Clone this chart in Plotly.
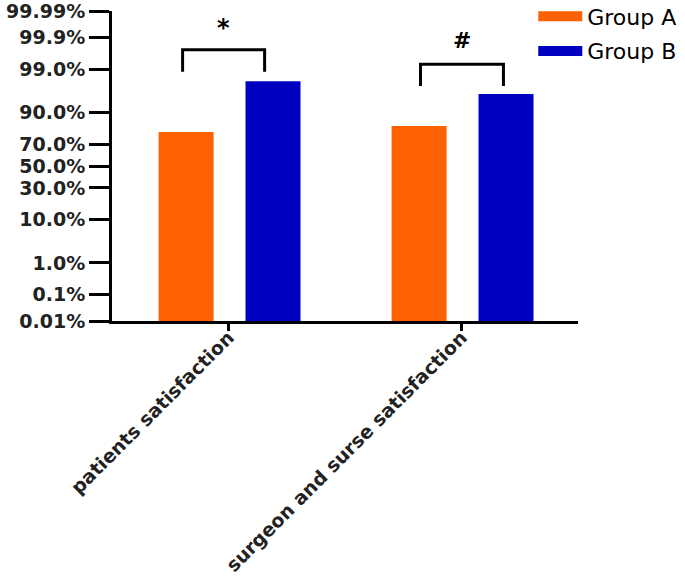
from statistics import NormalDist
import plotly.graph_objects as go

categories = ["patients satisfaction", "surgeon and surse satisfaction"]
group_a = [0.793, 0.831]
group_b = [0.979, 0.958]
tick_probs = [0.0001, 0.001, 0.01, 0.1, 0.3, 0.5, 0.7, 0.9, 0.99, 0.999, 0.9999]
tick_labels = ["0.01%", "0.1%", "1.0%", "10.0%", "30.0%", "50.0%", "70.0%", "90.0%", "99.0%", "99.9%", "99.99%"]
sig_marks = ["*", "#"]

nd = NormalDist()
z = nd.inv_cdf
zmin, zmax = z(tick_probs[0]), z(tick_probs[-1])

orange = "#FF6100"
blue = "#0000C0"

fig = go.Figure()
W = 0.236
fig.add_trace(go.Bar(x=categories, y=[z(v) - zmin for v in group_a], base=zmin,
                     width=W, offset=-0.30, marker=dict(color=orange, line=dict(width=0)),
                     showlegend=False, name="Group A"))
fig.add_trace(go.Bar(x=categories, y=[z(v) - zmin for v in group_b], base=zmin,
                     width=W, offset=0.073, marker=dict(color=blue, line=dict(width=0)),
                     showlegend=False, name="Group B"))
# legend entries (wide rectangles)
fig.add_trace(go.Scatter(x=[None], y=[None], mode="lines", line=dict(color=orange, width=12),
                         name="Group A", legendgroup="a"))
fig.add_trace(go.Scatter(x=[None], y=[None], mode="lines", line=dict(color=blue, width=12),
                         name="Group B", legendgroup="b"))

# significance brackets
for i, (a, b) in enumerate(zip(group_a, group_b)):
    top = max(z(a), z(b))
    xl, xr = i - 0.197 + (0.021 if i else 0), i + 0.155 + (0.025 if i else 0)
    yb = top + 0.23 if i == 0 else top + 0.19
    yt = yb + 0.525
    fig.add_shape(type="path", path=f"M {xl},{yb} L {xl},{yt} L {xr},{yt} L {xr},{yb}",
                  xref="x", yref="y", line=dict(color="black", width=3))
    fig.add_annotation(x=(xl + xr) / 2, y=yt + (0.15 if i == 0 else 0.22), text=f"<b>{sig_marks[i]}</b>",
                       showarrow=False, yanchor="bottom",
                       font=dict(family="DejaVu Sans", size=24 if i == 0 else 22, color="black"))

fig.update_layout(
    width=685, height=584,
    margin=dict(l=112, r=107, t=11, b=263, autoexpand=False),
    plot_bgcolor="white", paper_bgcolor="white",
    legend=dict(x=0.904, y=1.05, xanchor="left", yanchor="top", itemwidth=44,
                font=dict(family="DejaVu Sans", size=22, color="black"),
                tracegroupgap=3, bgcolor="rgba(0,0,0,0)"),
    xaxis=dict(type="category", range=[-0.5, 1.5], showline=True, linecolor="black", linewidth=3,
               ticks="outside", ticklen=7, tickwidth=3, tickcolor="black", tickangle=-45,
               ticklabelstandoff=-12,
               tickfont=dict(family="DejaVu Sans", size=19, color="#222"), automargin=False,
               tickprefix="<b>", ticksuffix="</b>", showgrid=False, zeroline=False),
    yaxis=dict(range=[zmin, zmax], showline=True, linecolor="black", linewidth=3,
               ticks="outside", ticklen=20, tickwidth=3, tickcolor="black", automargin=False,
               ticklabeloverflow="allow",
               tickvals=[z(p) for p in tick_probs], ticktext=[f"<b>{t}</b>" for t in tick_labels],
               tickfont=dict(family="DejaVu Sans", size=19, color="#222"),
               showgrid=False, zeroline=False),
)

fig.write_html("out.html", config={"displayModeBar": False},
               post_script="document.body.style.margin='0';")
